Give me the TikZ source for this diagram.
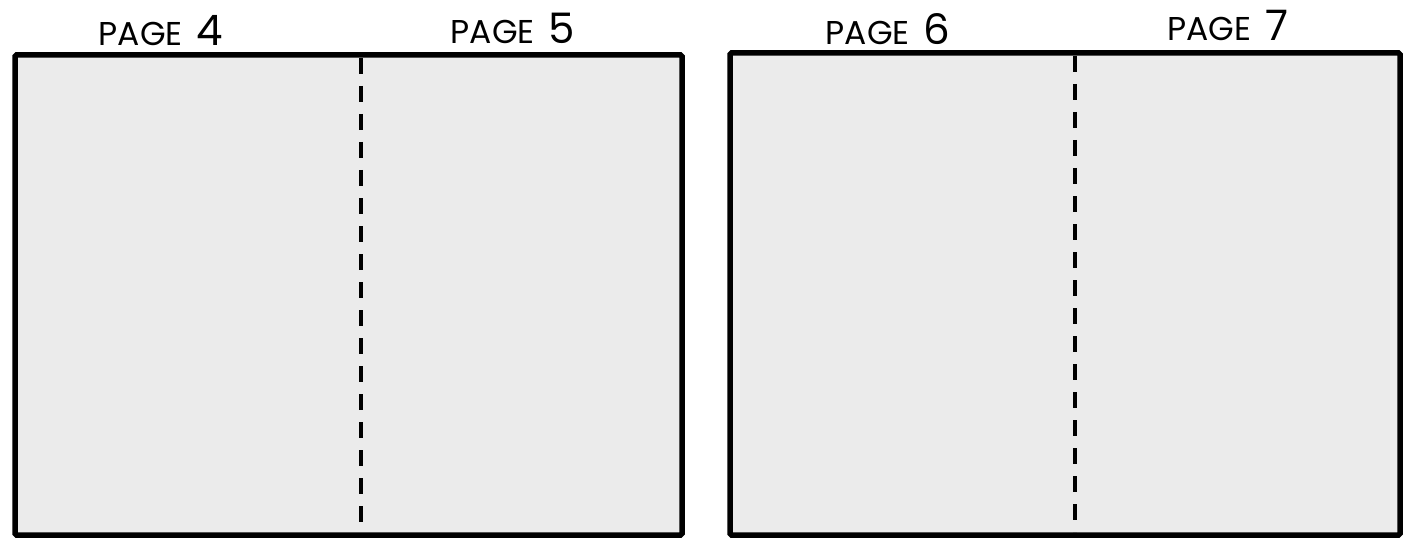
\documentclass[tikz,border=0pt]{standalone}
\usepackage{fontspec}
\setmainfont{Poppins}
\begin{document}
\begin{tikzpicture}[x=1pt,y=-1pt,
  spread/.style={draw=black, fill=pagegray, line width=5.5pt, rectangle, inner sep=0pt, rounded corners=1.5pt},
  fold/.style={line width=3.2pt, dash pattern=on 16pt off 12pt},
  lbl/.style={font=\fontsize{33}{36}\selectfont, inner sep=0pt, anchor=base}]
\definecolor{pagegray}{HTML}{EBEBEB}
\useasboundingbox (0,0) rectangle (1423,540);
\node[spread, minimum width=667pt, minimum height=480pt] (L) at (348.5,295) {};
\node[spread, minimum width=670pt, minimum height=482pt] (R) at (1065,294) {};
\coordinate (lt) at (361,58);
\coordinate (lb) at (361,532);
\coordinate (rt) at (1075,56);
\coordinate (rb) at (1075,532);
\draw[fold] (lt) -- (lb);
\draw[fold] (rt) -- (rb);
\node[lbl] (p4) at (161,46) {PAGE\hspace{14pt}{\fontsize{42}{46}\selectfont 4}};
\node[lbl] (p5) at (513,44) {PAGE\hspace{14pt}{\fontsize{42}{46}\selectfont 5}};
\node[lbl] (p6) at (888,45) {PAGE\hspace{14pt}{\fontsize{42}{46}\selectfont 6}};
\node[lbl] (p7) at (1228,41) {PAGE\hspace{14pt}{\fontsize{42}{46}\selectfont 7}};
\end{tikzpicture}
\end{document}
